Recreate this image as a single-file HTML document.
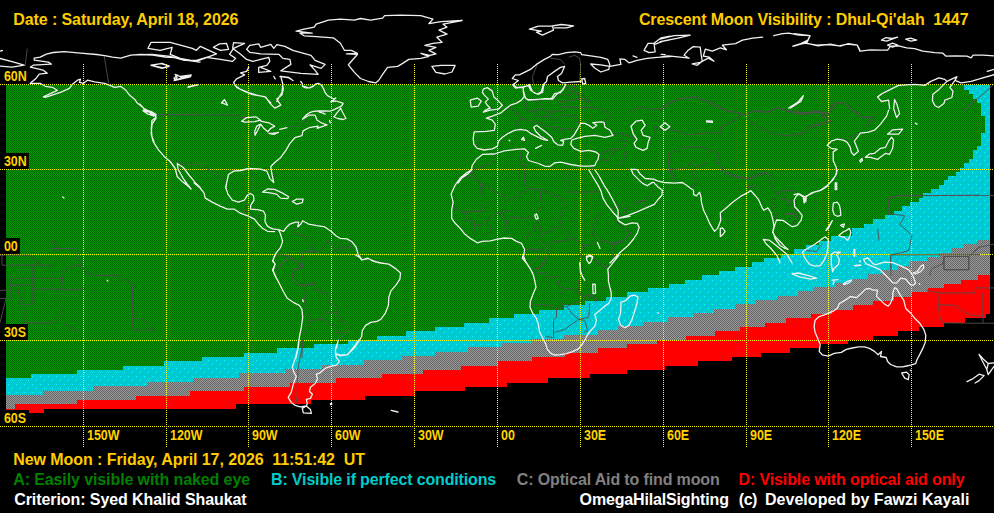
<!DOCTYPE html>
<html><head><meta charset="utf-8"><title>Crescent Moon Visibility</title>
<style>
html,body{margin:0;padding:0;background:#000;}
body{width:994px;height:513px;overflow:hidden;position:relative;font-family:"Liberation Sans",sans-serif;}
svg{position:absolute;left:0;top:0;}
.t{position:absolute;white-space:nowrap;font-weight:bold;font-size:16px;line-height:16px;color:#ffcc00;}
.lb{position:absolute;white-space:nowrap;font-weight:bold;font-size:14px;line-height:13px;color:#ffd200;background:#000;transform:scaleX(.89);transform-origin:0 0;}
</style></head><body>
<svg width="994" height="513" viewBox="0 0 994 513" shape-rendering="crispEdges">
<defs>
<pattern id="pg" width="2" height="2" patternUnits="userSpaceOnUse"><rect width="2" height="2" fill="#009900"/><rect x="0" y="0" width="1" height="1" fill="#006600"/><rect x="1" y="1" width="1" height="1" fill="#006600"/></pattern>
<pattern id="pgr" width="2" height="2" patternUnits="userSpaceOnUse"><rect width="2" height="2" fill="#999999"/><rect x="0" y="0" width="1" height="1" fill="#666666"/><rect x="1" y="1" width="1" height="1" fill="#666666"/></pattern>
<pattern id="pc" width="8" height="8" patternUnits="userSpaceOnUse"><rect width="8" height="8" fill="#00cccc"/><rect x="4" y="0" width="1" height="1" fill="#00b8ff"/><rect x="0" y="0" width="1" height="1" fill="#00ffff"/><rect x="2" y="2" width="1" height="1" fill="#00b8ff"/><rect x="4" y="4" width="1" height="1" fill="#00ffff"/><rect x="0" y="4" width="1" height="1" fill="#00b8ff"/><rect x="6" y="6" width="1" height="1" fill="#00b8ff"/></pattern>
</defs>
<rect x="6" y="85" width="984" height="328" fill="url(#pg)"/>
<polygon points="990,85 964,85 964,90 969,90 969,94 973,94 973,99 977,99 977,103 981,103 981,107 981,107 981,112 981,112 981,116 985,116 985,120 985,120 985,124 985,124 985,129 985,129 985,133 981,133 981,137 981,137 981,142 981,142 981,146 977,146 977,150 973,150 973,155 973,155 973,159 969,159 969,163 964,163 964,168 960,168 960,172 956,172 956,176 948,176 948,180 944,180 944,185 939,185 939,189 931,189 931,193 923,193 923,198 919,198 919,202 910,202 910,206 902,206 902,211 894,211 894,215 885,215 885,219 873,219 873,224 864,224 864,228 852,228 852,232 852,232 852,236 831,236 831,241 819,241 819,245 806,245 806,249 794,249 794,254 781,254 781,258 764,258 764,262 752,262 752,267 735,267 735,271 719,271 719,275 702,275 702,280 685,280 685,284 669,284 669,288 648,288 648,292 627,292 627,297 606,297 606,301 585,301 585,305 564,305 564,310 539,310 539,314 514,314 514,318 489,318 489,323 464,323 464,327 435,327 435,331 406,331 406,336 377,336 377,340 348,340 348,344 314,344 314,348 277,348 277,353 244,353 244,357 202,357 202,361 164,361 164,366 123,366 123,370 77,370 77,374 31,374 31,378 6,378 6,383 6,383 6,414 990,414" fill="url(#pc)"/>
<polygon points="990,240 977,240 977,244 964,244 964,248 952,248 952,253 939,253 939,257 927,257 927,261 910,261 910,266 898,266 898,270 881,270 881,274 868,274 868,279 852,279 852,283 835,283 835,287 814,287 814,291 798,291 798,296 777,296 777,300 756,300 756,304 735,304 735,309 714,309 714,313 693,313 693,317 668,317 668,322 643,322 643,326 618,326 618,330 598,330 598,335 564,335 564,339 531,339 531,343 502,343 502,347 468,347 468,352 435,352 435,356 402,356 402,360 364,360 364,365 322,365 322,369 285,369 285,373 239,373 239,378 193,378 193,382 147,382 147,386 93,386 93,391 43,391 43,395 6,395 6,399 6,399 6,414 990,414" fill="url(#pgr)"/>
<polygon points="990,275 978,275 978,280 961,280 961,284 944,284 944,288 928,288 928,292 911,292 911,297 894,297 894,301 873,301 873,305 853,305 853,310 832,310 832,314 811,314 811,318 786,318 786,323 765,323 765,327 740,327 740,331 715,331 715,336 686,336 686,340 657,340 657,344 627,344 627,348 598,348 598,353 565,353 565,357 532,357 532,361 498,361 498,366 461,366 461,370 423,370 423,374 382,374 382,378 336,378 336,383 290,383 290,387 244,387 244,391 190,391 190,396 136,396 136,400 77,400 77,404 15,404 15,409 6,409 6,414 990,414" fill="#ff0000"/>
<polygon points="990,314 986,314 986,318 965,318 965,323 944,323 944,327 919,327 919,331 898,331 898,336 873,336 873,340 848,340 848,344 819,344 819,348 790,348 790,353 761,353 761,357 732,357 732,361 698,361 698,366 665,366 665,370 627,370 627,374 590,374 590,378 548,378 548,383 507,383 507,387 465,387 465,391 415,391 415,396 365,396 365,400 311,400 311,404 236,404 236,409 44,409 44,413 29,413 29,410 6,410 6,415 990,415" fill="#000"/>
<g stroke="#ffff00" stroke-width="1" stroke-dasharray="1 1" fill="none">
<line x1="0" y1="84.5" x2="994" y2="84.5"/>
<line x1="0" y1="169" x2="994" y2="169"/>
<line x1="0" y1="254.5" x2="994" y2="254.5"/>
<line x1="0" y1="340.5" x2="994" y2="340.5"/>
<line x1="0" y1="426.5" x2="994" y2="426.5"/>
<line x1="83.5" y1="64" x2="83.5" y2="447"/>
<line x1="166.5" y1="64" x2="166.5" y2="447"/>
<line x1="248.5" y1="64" x2="248.5" y2="447"/>
<line x1="331.5" y1="64" x2="331.5" y2="447"/>
<line x1="414.5" y1="64" x2="414.5" y2="447"/>
<line x1="497.5" y1="64" x2="497.5" y2="447"/>
<line x1="580.5" y1="64" x2="580.5" y2="447"/>
<line x1="663.5" y1="64" x2="663.5" y2="447"/>
<line x1="746.5" y1="64" x2="746.5" y2="447"/>
<line x1="828.5" y1="64" x2="828.5" y2="447"/>
<line x1="911.5" y1="64" x2="911.5" y2="447"/>
</g>
<g fill="none" stroke="#505050" stroke-width="0.9" shape-rendering="auto" stroke-linejoin="round">
<path d="M104.2 56.1 L108.7 83.3 M27.2 48.5 L25.2 65.8 M156.9 114.4 L200 114.4 M537.4 64.4 L532.4 76.5 L533.4 83.5 M550.5 58.4 L560.5 59.4 L564.6 64.4 M568.6 57.3 L574.6 55.3 L579.7 58.4 L580.7 64.4 L579.7 80.5 M564.6 86.5 L574.6 92.6 L588.7 103 M660 108.5 L670.1 102.5 L680.1 98.5 L694.2 97.1 L706.3 100.5 L718.4 106.5 L730.4 111.5 L744.5 114.6 L754.6 110.5 L766.6 112.6 L776.7 107.5 L784.7 110.5 L800.8 114.2 L812.9 112.6 L823 113 L829 114.6 L835.1 103.5 L845.1 102.5 L853.2 110.5 L860 113.6 M964 110.5 L994 84.4 M794 111.5 L806.1 112.6 L816.1 111.5 L824.2 113.6 L821.2 116.6 L828.2 117.6 L827.2 122.6 M829.2 108.5 L836.3 102.5 L844.3 102.5 L852.4 110.5 L862.4 117.6 L871.5 116.6 L873.5 118.6 L870.5 123 M157.1 114.8 L232.6 114.8 L240.6 117.2 L248.7 118.2 M288.9 126.9 L299 126.2 L305 120.2 L308 124.2 M175.2 161.5 L186.3 164.5 L200.4 164.5 L204.4 167.5 L214.4 172.5 L220.5 177.6 L226.5 180.6 M630 112.2 L638 107.2 L650.1 109.2 L665.2 109.2 L667.2 105.2 L678.3 99.1 L694.4 97.1 L706.5 101.1 L716.5 106.2 L724.6 110.2 L734.6 112.2 L742.7 114.6 M742.7 114.6 L754.7 110.6 L768.8 112.6 L776.9 107.2 L784.9 110.2 L801 114.2 L815.1 111.2 L830 113.2 M742.7 114.6 L750.7 122.3 L758.8 127.3 L770.8 133.3 L789 135.9 L803 133.3 L809.1 127.3 L819.1 125.3 L830 122.3 M742.7 114.6 L730.6 122.3 L720.5 127.3 L721.5 133.3 L710.5 132.3 L696.4 134.3 L686.3 134.7 L678.3 130.7 L670.2 130.3 L662.2 129.3 L653.7 126.7 L653.7 136.3 M668.2 154.4 L680.3 148.4 L694.4 146.4 L706.5 148.4 L718.5 154.4 L717.5 162.5 L724.6 172.6 L738.7 176.6 L750.7 178.6 L766.8 172.6 L772.9 178.6 M668.2 154.4 L669.2 168.5 L674.3 180.6 M794 112.1 L800 114.1 L810.1 113.1 L820.2 112.1 L824.2 113.1 L821.2 117.1 L828.2 118.1 L831.2 121.1 M829.2 111.1 L836.3 103 L844.3 102.4 L852.4 110.1 L862.4 118.1 L872.5 117.1 L868.4 125.2 L863.4 127.2 L863.4 132.2 L854.4 135.2 L846.3 139.2 M794 135.2 L802 133.2 L810.1 126.2 L824.2 122.1 L831.2 121.1 M887.6 203 L888.6 197.6 L902.7 195.6 L994 195.6 M964 110.1 L975.1 100 M293.7 226.3 L296.7 234.3 L304.7 236.3 L308.8 238.3 L310.8 251.4 L302.7 252.4 M310.8 251.4 L316.8 252.4 L328.9 241.4 L329.9 233.3 M330.9 241.4 L333.9 251.4 L341 248.4 L339 240.3 M341 248.4 L351 247.4 L347 240.3 M274.6 254.4 L288.7 255.4 L276.6 269.5 M288.7 255.4 L302.7 267.5 L294.7 269.5 L291.7 277.6 L298.7 284.6 L314.8 283.6 M302.7 267.5 L303.7 257.4 L302.7 252.4 M249.4 204.7 L244.4 204.7 L242.8 210.2 L248.4 212.2 M255.5 217.2 L262.5 213.2 M473.3 177 L480.3 183.1 L498.4 193.1 L509.5 200.6 L528.6 189.1 L539.7 189.7 L563.8 199.2 M524.6 170 L525.6 184.1 L528.6 189.1 M567.8 170 L567.2 192.1 L599 192.1 M563.8 199.2 L563.8 209.2 L558.8 218.3 L562.8 228.4 L572.9 238.4 L580.9 243.4 M539.7 189.7 L541.7 206.2 L536.6 213.3 M509.5 200.6 L509.5 210.2 L496.4 213.3 L482.3 224.3 L475.3 225.3 M480.3 183.1 L482.3 211.2 L464.2 212.3 L453.1 207.2 M464.2 212.3 L467.2 220.3 L474.3 221.3 L475.3 234.4 M509.5 216.7 L524.6 218.3 L534.6 217.3 M538.7 220.3 L530.6 234.4 L522.6 239.4 M538.7 220.3 L541.7 234.4 L558.8 226.3 M541.7 234.4 L538.7 240.4 L544.7 246.5 L550.7 242.4 L570.8 239.4 M497.4 213.3 L506.5 219.3 L505.5 236.4 M490.4 224.3 L489.4 239.4 M499.4 223.3 L499.4 237.4 M599 213.3 L591 232.4 L601 240.4 L615.1 244.4 L623.2 240.4 L630 232.4 M580.9 243.4 L582.9 246.5 L591 244.8 L597 241.4 M582.9 246.5 L579.9 258.5 M592.6 258.5 L607.1 267.6 M612.1 244.4 L612.1 258.5 M525.6 249.5 L534.6 248.9 L538.7 256.5 L530.6 264.6 M534.6 248.9 L544.7 250.5 L549.7 245.5 M549.7 250.5 L544.7 262.6 L539.7 268.6 L533.6 268.6 M668.4 160 L670.4 171.1 L674.4 179.1 L673.4 182.1 M668.4 170.1 L684.4 168 L692.5 162 L696.5 167 L706.6 163 M692.5 176.1 L696.5 184.1 L690.5 187.2 M696.5 167 L692.5 176.1 M716.6 160 L722.7 171.1 L732.7 176.1 L746.8 179.1 L754.9 175.1 L764.9 172.1 L771 176.1 L772 180.1 M746.8 179.1 L748.8 188.2 L754.9 184.1 L757.9 191.2 M771 180.1 L771 187.2 L777 194.2 L783 191.2 L791.1 189.8 L796.1 193.2 M777 194.2 L771 201.2 L775 208.3 L777 218.4 M777 198.2 L787.1 200.2 L792.1 208.3 L798.1 212.3 M783 214.3 L791.1 213.3 L797.1 218.4 M612 208.3 L620.1 205.3 L626.1 209.3 L623.1 215.3 M626.1 209.3 L636.2 202.3 L646.2 200.2 L651.2 197.2 L652.3 190.2 M642.2 201.2 L645.2 207.3 M610 243.5 L614 242.5 L624.1 240.5 L631.1 233.4 L622.1 227.4 L616 220.4 M888.7 213.3 L888.7 198.2 L900.7 195.8 L980 195.2 M888.7 213.3 L904.7 215.9 L899.7 224.3 L908.8 232.4 L911.8 235.4 L908.8 250.5 L900.7 252.9 L890.7 254.9 L890.7 270.6 M890.7 254.9 L980 254.5 M877.6 228.4 L879 240.4 M944 256.5 L969.1 256.5 L969.1 269.6 L944 269.6 L944 256.5 M980 246.5 L973.2 252.5 M806.2 250.5 L816.2 251.5 L822.3 243.4 M780 192.1 L788 190.1 L795.1 191.1 M784 194.1 L788 200.2 L795.1 203.2 M784 214.3 L796.1 213.3 L797.1 218.3 L792.1 224.3 M890.6 255.5 L891 276 M927.1 290.4 L937.8 292.9 L974.7 292.9 L975.7 287.9 L994 287.9 M937.8 292.9 L938.2 304.8 L954.2 305.2 L964.4 312 L970.6 315.4 L982.9 316.1 L982.9 292.9 M938.2 304.8 L939.8 317.1 L942.9 322.8 L964.4 323.2 L994 323.2 M982.9 316.1 L982.9 323.2 M943.9 256.5 L968.5 256.5 L968.5 269.9 L943.9 269.9 L943.9 256.5 M968.5 256.5 L978.8 247.3 L994 244.2 M929.5 276 L931.6 268.9 L942.9 263.7 L943.9 256.5 M287.2 256 L293.3 260 L303.3 266.1 L303.3 259 L301.3 255 M288.2 259 L277.2 270.1 M303.3 266.1 L293.3 271.1 L292.3 277.1 L297.3 284.2 L303.3 286.2 L314.4 283.6 L316.4 290.2 L329.5 295.2 L330.5 303.3 L337.5 308.3 L336.5 313.4 L329.5 311.7 L323.4 315.4 L322.4 319.4 L310.4 320.4 M303.3 286.2 L304.3 299.3 L305.3 307.3 L310.4 320.4 L304.3 331.5 L302.7 341.5 L301.9 358 M336.5 313.4 L339.5 319.4 L346.6 324.4 L348.6 330.5 L341.5 337.5 L337.5 343.5 M322.4 319.4 L329.5 324.4 L335.5 326.4 L336.1 332.5 L343.6 332.5 M302.7 340 L301.3 352.1 L298.3 366.2 L297.3 380.2 L297.3 392.3 L296.3 402.4 M547.5 255 L540.4 267.1 L533.4 269.1 M534.4 272.1 L544.4 273.1 L546.5 278.1 L556.5 276.1 L559.5 286.2 L564.6 288.2 L559.5 294.2 L559.5 302.3 L564.6 306.3 M564.6 288.2 L574.6 290.2 L582.7 296.2 L590.7 295.2 L593.7 293.2 M578.7 280.2 L577.6 288.2 L582.7 296.2 M530.4 304.3 L550.5 305.3 L556.5 308.3 L563.6 307.7 L566.6 306.3 L579.7 301.3 L590.7 296.2 M556.5 308.3 L556.5 317.4 L553.5 319.4 L553.5 337.5 L545.5 336.5 M554.5 332.5 L564.6 329.4 L578.7 319.4 L588.7 317.4 L589.7 303.3 M566.6 306.3 L572.6 314.4 L578.7 319.4 L584.7 320.4 L587.7 330.5 L583.7 332.5 M593.7 259 L607.8 269.1 M598.8 289.2 L608.8 287.2 M590.7 295.2 L596.8 298.3 L595.8 302.3 M0 255.2 L30.2 255.2 L40.2 265.2 L51.3 265.2 L51.9 241.1 L60.4 249.1 L51.9 248.5 L74.4 248.5 L82.5 266.2 M2 255.2 L2 265.2 L40.2 265.2 M32.2 265.2 L32.2 304.4 L21.1 304.4 L17.1 285.3 L10.1 285.3 L10.1 298.4 L6 298.4 L0 322.6 M10.1 278.3 L62.4 278.3 L63.4 289.4 L32.2 288.8 M10.1 278.3 L10.1 285.3 L32.2 284.3 M62.4 278.3 L61.4 272.3 L74.4 265.2 L82.5 266.2 L85.5 273.3 L96.6 275.3 L118.7 275.9 L132.4 283.9 L132.8 328.6 L140.8 330.6 L152.9 329.6 L141.9 318.5 L132.8 318.5 M85.5 273.3 L85.5 284.3 L82.5 289.4 L63.4 290 L63.4 310.5 L60.4 315.5 L51.3 323 L24.1 323 L23.7 305.5 M63.4 323.6 L78.5 331.6 M0 290.4 L10.1 290 M0 298.4 L6 298.4 M506.4 108.2 L514.4 110.2 L515.5 113.2 L520.5 115.2 L521.5 119.2 L515.5 122.3 L517.5 128.3 M521.5 119.2 L528.5 120.2 L535.6 123.3 L540.6 122.3 L544.6 124.3 M525.5 98.1 L526.5 105.2 L525.5 109.2 L528.5 111.2 L534.6 110.2 L538.6 109.2 L540.6 105.2 L538.6 101.1 L528.5 100.1 M538.6 109.2 L544.6 110.2 L552.7 112.2 L560.7 111.2 L562.7 107.2 L560.7 102.1 L556.7 99.1 M534.6 110.2 L533.6 115.2 L536.6 117.2 L544.6 116.2 L552.7 112.2 M544.6 116.2 L549.7 117.2 L556.7 119.2 L560.7 116.2 L568.8 115.2 L576.8 118.2 L578.8 123.3 M560.7 102.1 L570.8 100.1 L580.8 99.1 L588.9 102.1 M562.7 107.2 L580.8 107.2 L599 108.2 L609 113.2 L610 116.2 L604 122.3 M542.6 126.3 L551.7 126.3 L551.7 133.3 M551.7 126.3 L560.7 128.3 L561.7 137.3 M560.7 128.3 L568.8 129.3 L576.8 130.3 M556.7 94.1 L568.8 95.1 L572.8 92.1 L580.8 94.1 L588.9 102.1 M565.8 84.4 L574.8 86 L572.8 92.1 M477.2 136.3 L478.2 140.4 L476.2 146.4 M613 135.3 L621.1 133.3 L629.1 136.3 L636.2 138.4 M621.1 138.4 L626.1 142.4 L623.1 148.4 L625.1 156.5 L619.1 168.5 M599 154.4 L611 149.4 L622.1 148.4 M599 159.5 L607 160.5 L615.1 150.4 M494.3 154 L493.3 160.5 L488.3 164.5 L472.2 170.5 M519.5 149.4 L520.5 159.5 L523.5 168.5 L524.5 183 M528.5 160.5 L524.5 168.5 M567.8 163.5 L567.8 183 M462.1 177.6 L473.2 176.6 L472.2 171.5 M589.9 166.5 L592.9 168.5"/>
</g>
<g fill="none" stroke="#f0f0f0" stroke-width="1.3" shape-rendering="auto" stroke-linejoin="round" stroke-linecap="round">
<path d="M30.2 83.3 L36.2 78.2 L39.2 74.2 L47.3 73.2 L43.3 70.2 L30.2 67.2 L33.2 65.2 L51.3 64.1 L48.3 62.1 L34.2 60.1 L34.2 58.1 L40.2 57.1 L46.3 54.1 L53.3 52.5 L64.4 51.7 L80.5 53.1 L96.6 54.5 L104.6 55.7 L112.7 57.1 L120.7 58.1 L130.8 55.1 L140.8 54.5 L152.9 55.1 L165 57.1 L175.1 57.7 L185.1 60.1 L196.2 61.7 L200 62.1 M30.2 83.3 L40.2 83.3 L45.3 86.3 L52.3 87.3 L57.3 90.3 L43.3 96.9 L45.3 97.3 L60.4 92.3 L69.4 88.3 L72.4 84.3 L77.5 80.2 L80.5 79.2 L79.5 82.3 L83.5 83.3 L87.5 80.2 L94.6 81.9 L104.6 83.3 L109.7 85.3 L114.7 87.3 L120.7 86.3 L125.8 90.3 L129.8 95.3 L134.8 99.4 L136.8 102.4 L142.9 107.4 L144.9 110.4 L150.9 111.4 L155.9 114.4 L155.9 117.5 L151.9 120.5 L151.3 128.5 L151.9 136.6 L153.9 141.6 M143.3 110.4 L147.9 114 L153.9 116.1 L149.9 112.4 L143.3 110.4 M0 58.5 L12.1 61.7 L24.1 65.2 L12.1 67.2 L0 66.2 M0 51.1 L2.4 50.5 M150.9 65.2 L161 63.7 L169 65.8 L163 67.8 L150.9 65.2 M174 78.2 L177.1 75.2 L181.1 77.2 L191.1 75.2 L175.1 80.2 L174 78.2 M188.1 87.3 L198.2 84.7 M148 48.3 L151.1 42.3 L170.2 42.3 L192.3 48.3 L196.3 50.3 L200.4 46.3 L216.5 53.9 L204.4 58.4 L196.3 61.4 L180.2 58.4 L170.2 54.3 L172.2 47.3 L160.1 50.3 L148 48.3 M140 54.7 L152.1 54.3 L170.2 56.3 L184.3 60.4 L196.3 60.4 L206.4 57.3 L220.5 59.4 L232.6 61.4 L235.6 58.4 L229.5 54.3 L233.6 48.3 L244.6 43.3 L233.6 42.7 L232.6 48.3 L240.6 54.3 L246.6 59.4 L252.7 61.4 L260.7 59.4 L268.8 57.3 L269.8 61.4 L266.8 65.4 L258.7 67.4 L258.7 72.4 L270.8 71.4 L260.7 67.4 M213.4 47.3 L219.5 43.9 L226.5 43.3 L228.5 49.3 L220.5 50.3 L213.4 47.3 M246.6 49.3 L249.7 45.3 L258.7 43.9 L260.7 47.3 L270.8 44.3 L273.8 48.3 L276.8 44.7 L284.9 46.3 L292.9 50.3 L301 52.7 L311 55.3 L315.1 60.4 L325.1 64.4 L321.1 68.4 L310 64.8 L315.1 70.4 L318.1 74.4 L301 73.4 L280.8 70.8 L290.9 64.4 L289.9 59.4 L282.9 58.4 L278.8 54.3 L260.7 53.9 L249.7 52.3 L246.6 49.3 M248.7 67.4 L246.6 71.4 L240.6 72.8 L244.6 74.8 L236.6 78.9 L233.6 82.5 L236.6 87.5 L244.6 91.5 L252.7 94.6 L264.7 96.6 L270.8 103 M292.9 80.5 L288.9 77.5 L280.8 76.5 L282.9 84.5 L281.9 92.6 L278.8 97.6 L276.8 101.6 M151.1 65.4 L162.1 63.4 L169.2 66.4 L162.1 68.4 L151.1 65.4 M175.2 74.4 L180.2 76.5 L191.3 74.8 L190.3 76.9 L174.2 80.5 L177.2 77.5 L175.2 74.4 M188.3 86.9 L197.3 84.9 M221.5 103 L224.5 99.6 L226.5 103 M273.8 76.5 L275.2 78.9 M296.1 31.2 L304.1 29.2 L314.2 27.2 L316.2 24.1 L328.3 20.1 L340.4 19.1 L354.4 20.1 L360.5 18.5 L370.5 20.1 L382.6 18.1 L384.6 15.7 L400.7 15.1 L420.8 15.7 L432.9 19.1 L428.9 23.7 L441 21.7 L462.1 20.5 L443 24.1 L447 27.2 L439 30.2 L447 34.2 L436.9 37.2 L442 42.3 L432.9 43.3 L424.9 45.3 L435.9 47.3 L428.9 50.3 L435.9 53.9 L429.9 55.3 L420.8 53.3 L428.9 56.3 L420.8 58.4 L408.8 59.4 L402.7 63.4 L397.7 66.4 L387.6 67.4 L382.6 74.4 L378.6 80.5 L375.6 82.9 L368.5 81.5 L360.5 78.5 L354.4 72.4 L348.4 64.8 L357.5 54.3 L346.4 53.9 L357.5 53.3 L351.4 50.3 L344.4 50.3 L340.4 43.3 L333.3 37.8 L316.2 36.6 L304.1 35.8 L300.1 33.2 L312.2 33.2 L296.1 31.2 M431.9 66.4 L441 65.4 L455.1 65.4 L452 72 L445 74 L435.9 72.4 L431.9 66.4 M280 76.5 L288 77.5 L293.1 80.5 M529.4 29.2 L538.4 26.2 L552.5 25.8 L553.5 30.2 L542.4 35.2 L536.4 32.2 L541.4 31.2 L529.4 29.2 M552.5 25.8 L561.5 24.5 L573.6 25.8 L566.6 27.8 L554.5 27.8 M512.3 78.5 L515.3 74.8 L519.3 74.8 L530.4 69.4 L536.4 64.4 L544.4 59.4 L550.5 56.3 L552.5 54.3 L558.5 54.7 L566.6 52.7 L574.6 51.9 L580.7 52.7 L581.7 54.7 L590.7 55.9 L600.8 57.3 L607.8 59.4 L609.8 64.4 L608.8 69.4 L600.8 72 L594.7 68 L590.7 64 L600.8 64.8 L609.8 66.4 L620.9 64.4 L619.9 58.8 L624.9 59.4 L629 62.8 L637 60.4 L647.1 58.4 L657.1 57.3 L670 56.7 M512.3 78.5 L518.3 80.5 L513.3 84.5 L516.3 87.5 L523.3 87.5 L529.4 84.5 L532.4 91.5 L537.4 94.2 L541.4 91.5 L543.4 84.5 L546.5 81.5 L547.5 76.5 L554.5 71.4 L560.5 67.4 L564.6 66.4 L561.5 73.4 L557.5 76.5 L558.5 80.5 L562.6 82.9 L570.6 82.1 L580.7 81.5 M581.7 78.9 L584.7 78.5 L585.7 83.5 L582.7 84.1 L581.7 78.9 M644 50.3 L648.1 43.3 L654.1 43.3 L655.1 51.9 L649.1 52.7 L644 50.3 M654.1 43.3 L661.1 37.8 L670 36.2 M654.1 44.7 L663.2 41.2 L670 39.8 M633 55.9 L637 57.3 M661.1 54.3 L665.2 54.7 M523.3 87.5 L523.3 91.5 L524.3 96.6 L527.3 99.6 L536.4 99.6 L544.4 98.6 L551.5 98.6 L554.5 93.6 L560.5 92.6 L564.6 86.5 M660 57.2 L668 55.8 L680.1 57.2 L689.2 58.2 L684.1 55.2 L688.2 50.2 L693.2 46.6 L700.2 47.2 L701.2 55.2 L702.3 61.2 L697.2 65.3 L692.2 63.9 L700.2 62.3 L708.3 58.2 L713.9 61.2 L709.3 57.2 L703.3 56.2 L705.3 49.2 L712.3 51.2 L720.4 47.8 L726.4 49.8 L722.4 45.2 L735.5 43.7 L742.5 40.1 L752.6 38.1 L762.6 37.1 M773.7 35.7 L782.7 33.7 L788.8 33.1 L798.8 35.1 L809.9 35.7 L807.9 40.1 L800.8 43.7 L792.8 46.2 L804.9 43.1 L816.9 45.2 L829 44.5 L839.1 45.8 L847.1 44.1 L857.2 45.2 L860 51.2 M660 39.1 L674.1 35.7 L690.2 35.1 L678.1 38.1 L660 41.7 M788.8 108.1 L796.8 103.5 L802.9 96.1 L800.8 101.5 L790.8 107.5 L788.8 108.1 M794 33.7 L810.1 35.7 L807.1 42.1 L794 46.2 M806.1 43.1 L818.1 45.8 L830.2 44.1 L840.3 46.2 L848.3 43.7 L857.4 45.2 L860.4 51.2 L870.5 49.8 L880.5 50.2 L887.6 50.2 L890.6 46.2 L898.6 45.8 L906.7 47.8 L914.7 48.6 L922.8 51.2 L934.8 52.6 L942.9 53.2 L945.9 56.2 L955 55.8 L967 56.2 L971.1 57.8 L973.1 55.2 L983.1 55.2 L994 55.8 M881.5 40.1 L885.5 37.7 L892.6 38.5 L897.6 37.1 L890.6 39.7 L886.6 41.1 L881.5 40.1 M905.7 39.1 L910.7 38.1 L916.7 40.1 L910.7 41.1 L905.7 39.1 M887.6 45.2 L892.6 43.1 L897.6 45.2 L892.6 47.2 L887.6 45.2 M889.6 108.5 L888.6 100.1 L881.5 101.5 L877.5 96.9 L882.5 93.4 L890.6 89.4 L898.6 85.4 L906.7 84.8 L914.7 84.4 L924.8 85.4 L930.8 81.4 L938.9 77.9 L944.9 79.4 L946.9 81.4 L957 76.7 L955 80.4 L961 82.8 L971.1 81.4 L981.1 78.4 L994 74.7 M894.6 99.5 L897 104.5 L899.6 113.6 L896.6 117.6 L893.6 108.5 L894.6 99.5 M946.9 81.4 L938.9 89.4 L932.8 94.4 L932.4 100.5 L934.8 105.5 L938.5 107.5 L943.9 103.5 L944.9 100.1 L951.9 97.5 L953 91.4 L949.9 87.4 L955 80.4 M987.2 71.3 L994 69.3 M140 104.1 L144 108.7 L151.1 112.2 L155.1 115.2 L148 114.2 L143 110.8 M155.1 115.2 L156.1 118.2 L152.1 124.2 L151.1 133.3 L153.1 141.3 L158.1 149.4 L164.1 156.4 L170.2 161.5 L175.2 168.5 L177.2 176.5 L182.3 181.6 L190.3 188 M200.4 187.6 L195.3 182.6 L189.3 175.5 L183.3 167.5 L177.2 163.5 L178.2 169.5 L183.3 178.6 L188.3 185.6 M234.6 85 L240.6 89.4 L248.7 92.6 L256.7 95.1 L265.8 97.1 L269.8 103.1 L274.8 108.1 L280.8 105.1 L276.8 99.1 L281.9 95.1 L283.3 89 L282.5 85 M221.5 102.7 L224.5 99.5 L227.5 105.1 L221.5 102.7 M241.6 121.2 L246.6 117.6 L255.7 116.8 L260.7 120.2 L254.7 121.6 L244.6 122.2 L241.6 121.2 M260.7 121.2 L268.8 122.8 L274.8 126.2 L270.8 128.3 L267.8 131.7 L263.7 128.3 L260.7 124.2 L256.7 126.2 L254.7 131.3 L255.1 135.3 L257.7 130.3 L260.7 124.2 M268.8 133.3 L273.8 134.3 L278.4 132.3 L272.8 133.3 L268.8 133.3 M279.8 129.3 L286.9 127.7 M302.6 119.2 L309 115.2 L315.1 115.2 L317.1 120.2 L322.1 123.2 L327.1 124.8 L317.1 128.3 L318.1 126.2 L309 127.7 L303 130.9 L302 135.7 L294.9 137.7 L289.9 143.4 L285.9 150.4 L280.8 157.4 L274.8 162.5 L270.8 166.5 L271.8 173.5 L273.8 182.6 L269.8 178.6 L266.8 171.1 L260.7 169.1 L248.7 168.5 L240.6 170.5 L233.6 171.1 L228.5 174.5 L226.9 181.6 L225.5 188 M303 86 L309 88 L315.1 85 M188.3 86.6 L197.3 85 M483.3 89.1 L487.3 87.6 L492.3 91.1 L493.9 97.1 L498.4 101.1 L502.4 105.2 L498.4 109.2 L490.3 110.2 L483.3 112.2 L485.3 110.2 L490.3 108.2 L487.3 105.2 L485.3 102.1 L488.3 99.1 L484.3 95.1 L482.3 92.1 L483.3 89.1 M470.2 100.1 L477.2 98.1 L481.2 101.1 L478.2 106.2 L471.2 107.2 L470.2 100.1 M523.5 91.1 L524.5 96.1 L521.5 100.1 L516.5 103.1 L510.4 105.2 L506.4 108.2 L500.4 113.2 L492.3 116.2 L486.3 118.2 L492.3 120.2 L495.3 124.3 L494.3 130.3 L486.3 131.3 L474.2 131.9 L473.2 138.4 L473.8 144.4 L477.2 148.4 L484.3 150 L492.3 148.8 L497.3 146.4 L498.4 141.4 L502.4 137.3 L508.4 133.3 L514.4 130.3 L520.5 129.3 L526.5 130.3 L530.5 133.3 L536.6 136.3 L542.6 139.4 L547.6 140.4 L540.6 136.3 L535.6 131.3 L533.6 127.3 L536.6 125.3 L540.6 128.3 L546.6 132.7 L551.7 137.3 L553.7 141.4 L557.7 144.8 L562.7 145.4 L563.7 141.4 L560.7 140.4 L564.7 139.4 L570.8 138.4 L573.8 135.3 L576.8 130.3 L580.8 123.3 L584.9 123.3 L589.9 125.9 L592.9 128.3 L596.9 125.3 L592.9 122.7 L601 121.9 L604 122.3 L605 127.3 L610 130.3 L613 135.3 L605 137.3 L594.9 135.3 L584.9 136.3 L576.8 138.4 L571.8 140 L570.8 144.4 L573.8 148.4 L580.8 151.4 L588.9 150.4 L595.9 152 L599 154.4 L597.9 159.5 L595.9 162.5 L594.9 165.5 L588.9 166.1 L580.8 166.1 L570.8 164.5 L560.7 162.1 L554.7 162.9 L549.7 166.5 L544.6 166.1 L538.6 163.5 L528.5 160.5 L526.5 156.5 L528.5 152.4 L524.5 148.8 L516.5 149.4 L504.4 150.8 L494.3 154 L482.3 154.4 L476.2 159.5 L472.2 165.5 L471.2 170.5 L468.2 173.6 L462.1 177.6 L458.1 183 M512.4 84.4 L515.5 88 L522.5 87 L528.5 85.6 L530.5 90.1 L534.6 93.1 L538.6 94.1 L542.6 92.1 L543.6 86 L544.6 84.4 M523.5 91.1 L525.5 98.1 L528.5 100.1 L540.6 99.1 L552.7 99.1 L556.7 94.1 L562.7 90.1 L565.8 84.4 M521.5 139.4 L523.5 137.3 L524.5 140.4 L521.5 139.4 M509.2 140.2 L509.8 140.8 M535.6 148.4 L541.6 145.4 M631 126.3 L636 121.2 L642.1 120.2 L645.1 125.3 L641.1 130.3 L643.1 135.3 L650.1 137.3 L648.1 142.4 L647.1 148.4 L643.1 150.4 L636 147.4 L634 143.4 L637 139.4 L633 133.3 L631 126.3 M660.2 126.7 L665.2 122.7 L669.8 126.7 L665.2 130.3 L660.2 126.7 M706.5 120.8 L712.5 121.2 L712.5 122.3 L706.5 121.9 L706.5 120.8 M789 107.8 L798 102.1 L803.4 95.7 L801 101.1 L791 107.8 L789 107.8 M828.2 144 L830 142.8 M888.6 110.1 L886.6 116.1 L880.5 124.1 L874.5 130.2 L868.4 132.2 L860.4 133.2 L854.4 141.2 L856.4 146.3 L858.4 151.3 L854 155.3 L851.3 152.3 L850.3 147.3 L847.3 142.3 L843.3 140.2 L837.3 139.2 L831.2 141.2 L827.2 145.3 L831.2 148.3 L837.3 149.3 L833.2 151.9 L833.2 160.4 L836.3 167.4 L836.7 173.4 L833.2 179.5 L827.2 185.5 L820.2 190.5 L812.1 192.6 L806.1 196.6 L805.1 200.6 M794 194.6 L798 193.6 L803.1 196.6 L804.1 203 M887.6 134.2 L892.6 129.8 L902.7 129.2 L898.6 134.2 L887.6 134.2 M865.4 157.3 L869.5 153.9 L874.5 153.3 L880.5 148.3 L885.5 147.3 L888.6 141.2 L891.6 137.2 L893.6 140.2 L892.6 148.3 L889.6 154.3 L885.5 153.3 L877.5 159.4 L870.5 157.3 L865.4 157.3 M859.8 160.4 L862 158.4 L862.4 160.4 L860.4 162 L859.8 160.4 M835.2 182.9 L836.7 182.9 L836.7 189.5 L835.2 189.5 L835.2 182.9 M915.3 123.1 L917.1 124.1 M194.1 183 L200.1 188 L204.1 193.1 L205.2 198.1 L212.2 202.1 L220.2 206.1 L227.3 209.2 L234.3 209.2 L240.4 213.2 L248.4 216.2 L254.4 219.2 L258.5 224.2 L262.5 228.3 L267.5 231.3 L274.6 231.7 M226.7 183 L225.9 188 L227.9 194.1 L232.3 200.1 L238.4 202.1 L244.4 200.1 L247.4 195.1 L250.4 193.5 L253.4 195.5 L254 200.1 L250.8 205.1 L250.4 209.2 L257.5 209.6 L263.5 211.2 L265.5 215.2 L264.9 221.2 L267.5 226.3 L272.6 228.9 L278.6 229.7 L283.6 231.3 L285.6 228.3 L289.7 224.2 L295.7 222.2 L298.7 222.2 L297.7 226.9 L300.7 224.2 L302.7 220.8 L308.8 224.2 L316.8 225.7 L324.9 226.9 L330.9 231.3 L335.9 235.7 L340 238.3 L347 238.9 L352 241.8 L356.1 247 L358.1 254.4 L362.1 259.9 L368.1 258.5 L374.2 261.1 L380 263.1 M278.6 229.7 L280.6 234.3 L282.6 241.4 L280.6 247.4 L276.6 252.4 L274.2 256.4 L273 260.5 L275 264.5 L273 270.5 L276.2 277.6 L280.6 286 M262.5 192.1 L267.5 189 L274.6 189.4 L282.6 193.1 L288.7 196.7 L287.6 198.7 L280.6 198.1 L276.6 194.1 L268.5 192.7 L262.5 192.1 M292.3 201.5 L296.7 199.1 L303.1 199.1 L302.3 202.7 L296.7 204.1 L292.3 201.5 M185 183 L188 185 L191.1 189 L188 186 L185 183 M471.2 170 L466.2 173 L460.2 178 L455.2 185.1 L451.1 194.1 L453.1 202.2 L451.7 210.2 L451.7 218.3 L455.2 223.3 L460.2 228.4 L464.2 233.4 L470.2 238.4 L477.3 242.8 L482.3 241.4 L490.4 240.8 L496.4 239.4 L504.4 238 L511.5 238.4 L516.5 241.4 L521.5 243.4 L524.6 249.5 L523.6 256.5 L525.6 261.5 L529.6 267.6 L532.6 273 M589 170 L593 177 L598 185.1 L601 191.1 L603 198.2 L607.1 205.2 L612.1 211.2 L617.1 216.7 L618.1 220.3 L623.2 223.9 M595 170 L599 176 L604 185.1 L609.1 193.1 L614.1 202.2 L618.1 210.2 L618.1 218.3 L630 216.3 M534.6 215.3 L536.6 213.9 L538.2 218.3 L536.2 219.3 L534.6 215.3 M586.5 256.5 L590 254.9 L592.6 256.5 L591 261.5 L589 263.6 L586.5 259.5 L586.5 256.5 M597.4 242.4 L600 248.5 M579.9 262.6 L580.5 273 M631.1 169.1 L633.1 174.1 L637.2 178.1 L642.2 183.1 L647.2 185.8 L651.2 183.1 L653.3 182.1 L658.3 187.2 L662.3 190.2 L661.9 195.2 L658.3 199.2 L654.3 204.3 L646.2 207.9 L638.2 211.3 L628.1 215.3 L618 218.4 M631.1 169.1 L637.2 169.7 L640.2 174.1 L645.2 178.5 L653.3 179.1 L658.3 181.1 L664.3 182.5 L674.4 183.1 L682.4 182.5 L686.5 185.2 L690.5 188.2 L693.5 190.2 L693.5 194.6 L696.5 195.8 L699.5 192.2 L700.9 196.2 L701.5 202.3 L703.6 210.3 L706.6 216.3 L709.6 223.4 L712.6 228.4 L714.6 231.4 L717.6 228.4 L720.7 220.4 L720.3 212.7 L724.7 209.3 L732.7 202.3 L740.8 196.2 L746.8 193.2 L750.8 190.6 L754.9 195.2 L758.9 200.2 L761.9 207.3 L763.9 210.3 L767.9 207.9 L771 212.7 L773 220.4 L774 226.4 L772.6 232.4 L776 237.5 L781 242.5 L785.1 246.9 L788.1 249.5 L785.1 248.5 L780 245.5 L775 238.5 L773 231.4 L775 224.4 L776.6 220 L783 220.4 L788.1 224 L792.1 226.8 L797.1 225.4 L801.1 220.4 L802.2 215.3 L798.1 210.3 L794.7 206.7 L794.1 200.2 L796.1 196.2 L799.1 193.8 L804.2 196.6 M619.1 221.4 L625.1 224.8 L632.1 222.8 L637.2 223.4 L639.2 227.4 L637.2 233.4 L633.1 239.5 L628.1 245.5 L621.1 251.5 L615 257.6 L610 263 M720.3 228.4 L722.7 228 L725.1 231.4 L722.7 234.8 L720.3 236.5 L720.3 228.4 M763.3 239.5 L769 240.1 L775 244.5 L781 249.5 L787.1 254.6 L792.1 263 M763.3 239.5 L765.9 243.5 L771 248.5 L777 255.6 L780 263 M837.3 170 L835.3 176 L831.3 181.1 L827.3 186.1 L821.2 190.1 L814.2 192.1 L808.2 195.2 L805.2 196.6 M804.5 198.2 L806.2 198.2 L805.8 201.8 L804.5 201.8 L804.5 198.2 M835.3 183.7 L836.7 183.7 L836.7 189.7 L835.3 189.7 L835.3 183.7 M833.3 203.2 L837.3 202.2 L839.4 205.2 L840.4 210.2 L840.8 215.3 L837.3 216.3 L834.3 214.7 L832.7 210.2 L833.3 203.2 M825.9 230.4 L829.3 225.3 L832.3 220.7 L828.3 228.4 L825.9 230.4 M838.8 235.4 L842.4 232.4 L846.4 230.4 L849.4 228.4 L850.8 232.4 L849.4 237.4 L847.4 240.4 L844.4 237.4 L840.4 236.4 L838.8 235.4 M840.4 225.3 L844.4 223.9 L843.4 227.3 L840.4 225.3 M804.1 250.5 L809.2 247.5 L815.2 244 L821.2 239.4 L825.3 236.8 L828.3 239.4 L827.9 247.5 L826.7 254.5 L823.9 260.5 L820.2 265.6 L815.2 266.2 L810.2 264.6 L807.2 261.5 L804.1 256.5 L802.5 252.5 L804.1 250.5 M831.3 254.5 L834.3 252.1 L840.4 252.1 L836.3 254.5 L839.4 259.5 L838.4 264.6 L833.9 268.6 L832.7 271.6 L831.3 264.6 L831.3 254.5 M854 249.5 L854.8 249.5 L854.8 256.1 L854 256.1 L854 249.5 M854.4 265.6 L860.5 265 M859.5 260.9 L860.5 261.8 M792.1 274 L798.2 273 L808.5 275.6 L816.7 278.1 L810.5 279.1 L800.3 277.1 L792.1 274 M832.1 280.1 L838.2 279.7 M833.1 284.3 L834.1 281.2 M843.4 283.8 L847.5 281.2 L851.6 280.1 L848.5 283.2 L843.8 284.7 L843.4 283.8 M863.5 259.2 L868 258 L872.1 262.7 L875.2 264.8 L884.4 262.1 L892.6 262.7 L900.8 265.8 L909 269.9 L913.1 276 L915.6 283.2 L913.1 285.3 L910 284.3 L905.9 279.1 L900.8 278.1 L896.7 283.2 L892.6 282.6 L888.5 278.1 L883.4 273 L880.3 269.9 L876.2 267.8 L871.1 265.8 L865.9 263.7 L863.5 259.2 M913.1 273 L917.2 271.5 L921.3 265.8 L923.4 264.8 L923.8 267.8 L920.3 271.9 L915.2 274 L913.1 273 M919.1 283.6 L919.7 284.3 M855.3 265.8 L860.8 265.4 M859.8 261.1 L860.4 261.7 M275.2 255 L272.5 261 L275.2 264.1 L272.5 270.1 L275.2 276.1 L279.2 283.2 L283.2 291.2 L287.2 298.3 L293.3 302.3 L299.3 305.3 L301.9 309.3 L302.7 317.4 L301.3 327.4 L299.3 337.5 L298.3 347.6 L295.9 358 M355.6 255 L359.7 257.4 L361.7 260 L367.7 258 L372.7 261 L380.8 263 L388.8 264.1 L394.9 268.1 L400.5 273.1 L399.9 279.1 L395.9 285.2 L390.8 291.2 L388.8 297.3 L388.4 305.3 L385.2 313.4 L380.8 319.4 L376.8 321.4 L370.7 322.4 L365.7 325.4 L362.3 330.5 L361.7 336.5 L358.7 341.5 L354.6 347.6 L350.6 351.6 L347.6 354.6 L340.5 355.2 L335.5 353.6 L335.5 348.6 L337.5 343.5 M302.7 299.7 L303.3 301.7 M298.7 340 L297.9 348 L295.3 358.1 L292.3 367.2 L294.3 373.2 L296.3 376.2 L293.3 384.3 L291.2 392.3 L288.2 397.3 L291.2 402.4 L295.3 405.4 L300.3 406.8 L306.3 406 L310.4 409.4 L311.4 413.4 L303.3 412.8 L302.3 408.4 L306.3 406 M358.7 340 L354.6 346 L349.6 352.1 L346.6 355.1 L340.5 355.7 L335.5 354.1 L336.5 358.1 L339.5 361.1 L336.5 365.2 L331.5 366.2 L325.5 368.2 L319.4 373.2 L316.4 374.2 L317.4 379.2 L315.4 383.3 L310.4 387.3 L309.4 391.3 L312.4 394.3 L310.4 398.4 L306.3 399.4 L307.3 403.4 L306.3 406 M336.5 348 L337.5 343 L338.5 340 M330.5 403.6 L331.7 403.6 L331.7 404.6 L330.5 404.6 L330.5 403.6 M391.2 410.4 L397.9 412 M523.3 255 L522.3 258 L526.3 263 L530.4 269.1 L533.4 275.1 L534.8 281.2 L536 287.2 L533.4 293.2 L530.4 301.3 L530 307.3 L532.8 313.4 L536.4 318.4 L538.4 324.4 L539.4 331.5 L542.4 337.5 L545.5 343.5 L547.5 349.6 L550.5 353.2 L554.5 355 L560.5 354.6 L566.6 353.6 L572.6 351.6 L578.7 348.6 L582.7 343.5 L585.7 338.5 L587.7 334.5 L590.7 330.5 L594.7 326.4 L596.4 320.4 L594.7 314.4 L598.8 311.3 L603.8 306.9 L608.8 303.3 L611.2 298.3 L611.2 292.2 L609.8 287.2 L608.4 281.2 L608.4 275.1 L607.8 269.1 L611.9 264.1 L615.9 259 L618.9 255 M620.9 302.3 L625.9 300.3 L630 296.2 L634 295.2 L638 296.9 L637 303.3 L634.6 311.3 L632 319.4 L629 325.4 L624.9 327.8 L620.5 325 L618.5 319.4 L620.5 313.4 L620.9 307.3 L620.9 302.3 M592.7 284.2 L595.2 284.2 L595.6 293.2 L593.1 293.6 L592.7 284.2 M579.7 263 L580.3 270.1 L582.3 276.1 L584.7 280.2 M586.7 257.4 L589.7 256 L592.7 257.4 L590.7 262 L589.1 263.5 L586.7 260 L586.7 257.4 M657.9 312.7 L658.5 313.4 M865.4 289.1 L869.5 288.5 L873.5 290.1 L877.5 290.1 L876.5 296.1 L880.5 300.1 L884.5 304.1 L888.2 306.2 L890.6 303.1 L892.6 298.1 L893 292.1 L894.6 287.6 L897 289.1 L899.6 294.1 L903.7 300.1 L905.7 308.2 L909.7 312.2 L914.7 318.2 L919.8 323.3 L923.8 329.3 L925.8 335.3 L925.2 342.4 L922.8 348.4 L919.8 354.4 L917.1 359.5 L915.7 363.5 L908.7 365.5 L902.7 366.9 L896.6 366.9 L890.6 364.5 L887.6 361.5 L886.2 357.5 L880.5 356.5 L881.5 351.4 L878.1 354.8 L874.5 351.4 L869.5 348.4 L864.4 346.8 L858.4 346.8 L852.4 348 L846.3 349.4 L841.3 352.4 L834.2 353.4 L828.2 356.1 L822.2 354.8 L819.2 351.4 L820.2 344.4 L817.7 338.4 L815.1 332.3 L814.1 326.3 L815.1 320.2 L819.2 316.6 L826.2 314.2 L833.2 311.2 L837.3 308.2 L839.3 303.7 L845.3 300.1 L850.3 296.5 L856.4 297.7 L860.4 294.1 L865.4 289.1 M901.6 373 L906.7 372.2 L909.1 374.6 L908.3 379.6 L904.7 378.2 L901.6 373 M979.1 354.4 L983.1 358.9 L988.2 363.5 L994 362.9 M988.2 363.5 L986.8 369.5 L988.2 374.6 L994 366.5 M979.1 354.4 L982.1 360.5 L986.8 369.5 M967 381.6 L973.1 378.6 L979.1 374.2 L984.1 375.6 L979.1 380.6 L975.1 383 M910.3 370.1 L911.1 370.9 M107.2 280.3 L108 281.1 M300.7 81.5 L302.2 83.4 L302.7 86.3 L305.6 87.8 L309.5 87.8 L313.4 86.3 L315.8 83.9 L318.3 83.4 L321.2 84.9 L323.6 88.8 L325.1 92.7 L327.5 95.6 L330.9 97.5 L333.9 99 L335.8 98 L332.9 100.5 L330.9 101.9 L335.8 101 L340.7 102.4 L343.1 103.4 L341.7 105.8 L337.8 107.8 L332.9 110.2 L330 111.2 L324.1 111 L318.3 111 L313.4 111.4 L309.5 112.7 L306.1 115.1 L302.7 119 M340.7 108.3 L342.6 112.2 L346 118.5 L343.1 119.5 L337.8 118.5 L333.9 117 L336.8 113.1 L340.7 108.3 M319.2 112.2 L323.1 113.1 L325.1 114.1 M329.5 120.4 L330.2 122.9 M62.5 197 L64 198"/>
</g>
</svg>
<div class="lb" style="left:3px;top:68px;padding:0 2.2px 0 1px;line-height:16px;height:16px;">60N</div>
<div class="lb" style="left:3px;top:153px;padding:0 2.2px 0 1px;line-height:16px;height:16px;">30N</div>
<div class="lb" style="left:3px;top:238px;padding:0 2.2px 0 1px;line-height:16px;height:16px;">00</div>
<div class="lb" style="left:3px;top:324px;padding:0 2.2px 0 1px;line-height:16px;height:16px;">30S</div>
<div class="lb" style="left:3px;top:410px;padding:0 2.2px 0 1px;line-height:16px;height:16px;">60S</div>
<div class="lb" style="left:87px;top:429px;">150W</div>
<div class="lb" style="left:170px;top:429px;">120W</div>
<div class="lb" style="left:252px;top:429px;">90W</div>
<div class="lb" style="left:335px;top:429px;">60W</div>
<div class="lb" style="left:418px;top:429px;">30W</div>
<div class="lb" style="left:501px;top:429px;">00</div>
<div class="lb" style="left:584px;top:429px;">30E</div>
<div class="lb" style="left:667px;top:429px;">60E</div>
<div class="lb" style="left:750px;top:429px;">90E</div>
<div class="lb" style="left:832px;top:429px;">120E</div>
<div class="lb" style="left:915px;top:429px;">150E</div>
<div class="t" id="t0" style="left:13.20px;top:12px;color:#ffcc00;letter-spacing:-0.080px;">Date : Saturday, April 18, 2026</div>
<div class="t" id="t1" style="left:638.90px;top:12px;color:#ffcc00;letter-spacing:-0.107px;">Crescent Moon Visibility : Dhul-Qi'dah&nbsp; 1447</div>
<div class="t" id="t2" style="left:13.20px;top:452px;color:#ffcc00;letter-spacing:-0.065px;">New Moon : Friday, April 17, 2026&nbsp; 11:51:42&nbsp; UT</div>
<div class="t" id="t3" style="left:13.20px;top:472px;color:#008000;letter-spacing:-0.103px;">A: Easily visible with naked eye</div>
<div class="t" id="t4" style="left:271.00px;top:472px;color:#00cccc;letter-spacing:-0.155px;">B: Visible if perfect conditions</div>
<div class="t" id="t5" style="left:516.80px;top:472px;color:#808080;letter-spacing:-0.138px;">C: Optical Aid to find moon</div>
<div class="t" id="t6" style="left:738.60px;top:472px;color:#ff0000;letter-spacing:-0.129px;">D: Visible with optical aid only</div>
<div class="t" id="t7" style="left:14.20px;top:492px;color:#ffffff;letter-spacing:-0.076px;">Criterion: Syed Khalid Shaukat</div>
<div class="t" id="t8" style="left:579.60px;top:492px;color:#ffffff;letter-spacing:-0.159px;">OmegaHilalSighting</div>
<div class="t" id="t9" style="left:738.80px;top:492px;color:#ffffff;letter-spacing:-0.500px;">(c)</div>
<div class="t" id="t10" style="left:765.00px;top:492px;color:#ffffff;letter-spacing:0.029px;">Developed by Fawzi Kayali</div>
</body></html>
